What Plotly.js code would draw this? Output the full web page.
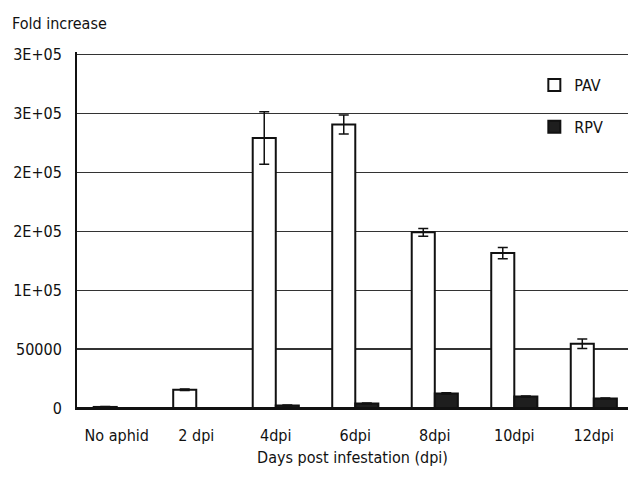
<!DOCTYPE html>
<html>
<head>
<meta charset="utf-8">
<script src="https://cdn.plot.ly/plotly-3.0.1.min.js"></script>
<style>
  html, body { margin: 0; padding: 0; background: #fff; }
  #chart { width: 628px; height: 478px; }
</style>
</head>
<body>
<div id="chart"></div>
<script>
// Sampling days after aphid infestation
const categories = ['No aphid', '2 dpi', '4dpi', '6dpi', '8dpi', '10dpi', '12dpi'];

// Fold increase of virus titre, with standard error
const pavValues = [900, 15500, 229000, 240500, 149000, 131400, 54500];
const pavErrors = [300, 600, 22300, 8000, 3300, 4700, 4000];
const rpvValues = [0, 0, 2200, 3900, 12400, 9800, 8100];
const rpvErrors = [0, 0, 300, 300, 600, 400, 300];

// Y axis ticks, labelled in rounded scientific notation
const yTickVals = [0, 50000, 100000, 150000, 200000, 250000, 300000];
const yTickText = ['0', '50000', '1E+05', '2E+05', '2E+05', '3E+05', '3E+05'];

const FONT = '"Liberation Sans Narrow", "DejaVu Sans Condensed", "Arial Narrow", sans-serif';
const INK = '#111111';
const FS = 16;

const errStyle = { type: 'data', visible: true, color: INK, thickness: 1.5, width: 5 };

const traces = [
  {
    type: 'bar', name: 'PAV', legendgroup: 'pav',
    x: categories, y: pavValues,
    error_y: Object.assign({ array: pavErrors }, errStyle),
    marker: { color: '#ffffff', line: { color: INK, width: 2 } }
  },
  {
    type: 'bar', name: 'RPV', legendgroup: 'rpv',
    x: categories, y: rpvValues,
    error_y: Object.assign({ array: rpvErrors }, errStyle),
    marker: { color: '#1e1e1e', line: { color: INK, width: 2 } }
  }
];

const layout = {
  width: 628, height: 478,
  paper_bgcolor: '#ffffff', plot_bgcolor: '#ffffff',
  font: { family: FONT, size: FS, color: INK },
  margin: { l: 77, r: 0, t: 52, b: 70 },
  barmode: 'group', bargap: 0.42, bargroupgap: 0,
  title: {
    text: 'Fold increase',
    xref: 'container', yref: 'container',
    x: 0.019, xanchor: 'left',
    y: 0.952, yanchor: 'middle',
    font: { family: FONT, size: FS, color: INK }
  },
  xaxis: {
    type: 'category',
    range: [-0.5, 6.43],
    showline: true, linecolor: INK, linewidth: 2,
    ticks: '', showgrid: false,
    ticklabelstandoff: 12,
    tickfont: { size: FS },
    title: { text: 'Days post infestation (dpi)', font: { size: FS }, standoff: 8 }
  },
  yaxis: {
    range: [0, 302000],
    tickvals: yTickVals, ticktext: yTickText,
    showline: true, linecolor: INK, linewidth: 2,
    showgrid: true, gridcolor: '#333333', gridwidth: 1.2,
    zeroline: true, zerolinecolor: INK, zerolinewidth: 2,
    ticks: '', ticklabelstandoff: 10,
    tickfont: { size: FS }
  },
  showlegend: true,
  legend: {
    x: 0.83, xanchor: 'left', xref: 'paper',
    y: 0.955, yanchor: 'top', yref: 'paper',
    bgcolor: 'rgba(0,0,0,0)', borderwidth: 0,
    traceorder: 'grouped', tracegroupgap: 18,
    font: { size: FS }
  }
};

Plotly.newPlot('chart', traces, layout, { displayModeBar: false, staticPlot: true });
</script>
</body>
</html>
